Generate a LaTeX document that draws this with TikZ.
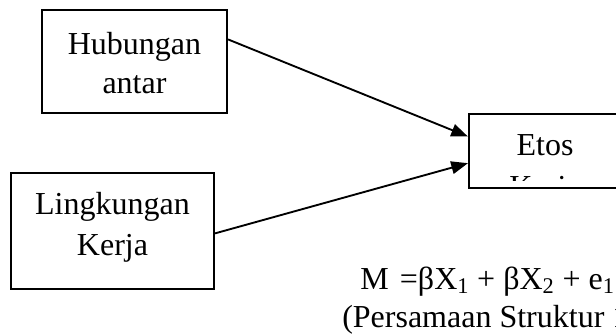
\documentclass[tikz,border=0pt]{standalone}
\usepackage{fontspec}
\setmainfont{Liberation Serif}
\usetikzlibrary{arrows.meta,calc}

\tikzset{
  varbox/.style={draw, line width=1.6pt, minimum width=#1, inner sep=0pt},
  lbl/.style={anchor=base, inner sep=0pt, font=\fontsize{24pt}{29pt}\selectfont},
  eqtext/.style={anchor=base west, inner sep=0pt, font=\fontsize{24pt}{29pt}\selectfont},
  path arrow/.style={line width=1.4pt, -{Triangle[length=12.5pt,width=9.5pt]}}
}

\begin{document}
\begin{tikzpicture}[x=0.75pt,y=-0.75pt]
  \useasboundingbox (0,0) rectangle (616,335);
  \clip (0,0) rectangle (616,335);

  % variable boxes
  \node[varbox=185*0.75pt, minimum height=103*0.75pt] (hub) at (134.5,61.5) {};
  \node[varbox=203*0.75pt, minimum height=116*0.75pt] (ling) at (112.5,231) {};
  \node[varbox=152*0.75pt, minimum height=74*0.75pt] (etos) at (545,151) {};

  % box labels
  \node[lbl] (hubA) at (134.5,55) {Hubungan};
  \node[lbl] (hubB) at (134.5,93) {antar};
  \node[lbl] (lingA) at (112.5,214) {Lingkungan};
  \node[lbl] (lingB) at (112.5,255) {Kerja};
  \node[lbl] (etosA) at (545,155) {Etos};
  \begin{scope}
    \clip (470,115) rectangle (620,180);
    \node[lbl] (etosB) at (545,197) {Kerja};
  \end{scope}

  % paths
  \draw[path arrow] ($(hub.north east)!0.29!(hub.south east)$) -- ($(etos.north west)!0.31!(etos.south west)$);
  \draw[path arrow] ($(ling.north east)!0.52!(ling.south east)$) -- ($(etos.north west)!0.66!(etos.south west)$);

  % structural equation
  \node[eqtext] (eq) at (360,289) {M\hspace{0.35em}=βX\textsubscript{1} + βX\textsubscript{2} + e\textsubscript{1}};
  \node[eqtext] (eqname) at (342,327) {(Persamaan Struktur 1)};
\end{tikzpicture}
\end{document}
